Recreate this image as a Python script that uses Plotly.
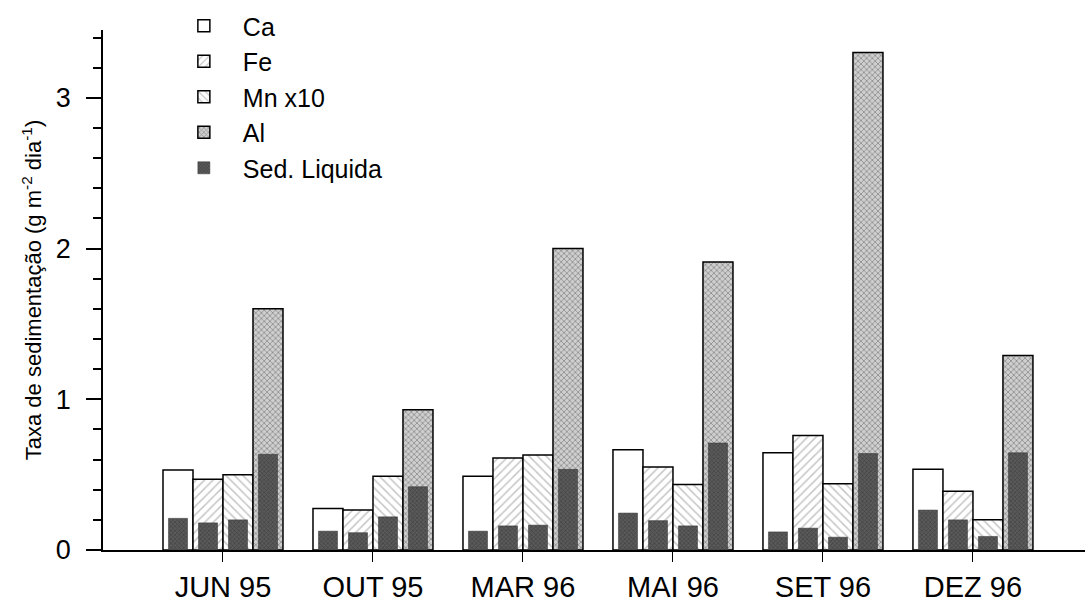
import plotly.graph_objects as go

categories = ["JUN 95", "OUT 95", "MAR 96", "MAI 96", "SET 96", "DEZ 96"]
series_names = ["Ca", "Fe", "Mn x10", "Al"]
ca = [0.53, 0.275, 0.49, 0.665, 0.645, 0.535]
fe = [0.47, 0.265, 0.61, 0.55, 0.76, 0.39]
mn10 = [0.50, 0.49, 0.63, 0.435, 0.44, 0.20]
al = [1.60, 0.93, 2.00, 1.91, 3.30, 1.29]
sed_ca = [0.21, 0.125, 0.125, 0.245, 0.12, 0.265]
sed_fe = [0.18, 0.115, 0.16, 0.195, 0.145, 0.20]
sed_mn = [0.20, 0.22, 0.165, 0.16, 0.085, 0.09]
sed_al = [0.635, 0.42, 0.535, 0.71, 0.64, 0.645]

totals = [ca, fe, mn10, al]
seds = [sed_ca, sed_fe, sed_mn, sed_al]

FONT = "Liberation Sans, Arial, sans-serif"
xpos = list(range(len(categories)))
bar_w = 0.2
sed_w = 0.127

styles = [
    dict(color="white", pattern=dict(shape="")),
    dict(color="white", pattern=dict(shape="/", fgcolor="#8a8a8a", size=6, solidity=0.25)),
    dict(color="white", pattern=dict(shape="\\", fgcolor="#8a8a8a", size=6, solidity=0.25)),
    dict(color="#cfcfcf", pattern=dict(shape="x", fgcolor="#555555", size=4, solidity=0.4)),
]
sed_style = dict(color="#5a5a5a", pattern=dict(shape="x", fgcolor="#2a2a2a", size=3, solidity=0.4))

fig = go.Figure()
for i, (name, vals) in enumerate(zip(series_names, totals)):
    fig.add_trace(go.Bar(
        x=xpos, y=vals, name=name, width=bar_w, offset=-0.4 + i * bar_w,
        marker=dict(color=styles[i]["color"], pattern=styles[i]["pattern"],
                    line=dict(color="black", width=1.5)),
        legendgroup=name, legendrank=i + 1,
    ))
for i, vals in enumerate(seds):
    fig.add_trace(go.Bar(
        x=xpos, y=vals, name="Sed. Liquida", width=sed_w,
        offset=-0.4 + i * bar_w + (bar_w - sed_w) / 2,
        marker=dict(color=sed_style["color"], pattern=sed_style["pattern"],
                    line=dict(color="#333333", width=0.5)),
        legendgroup="sed", showlegend=(i == 0), legendrank=10,
    ))

fig.update_layout(
    width=1091, height=610,
    margin=dict(l=103, r=6, t=30, b=60, autoexpand=False),
    paper_bgcolor="white", plot_bgcolor="white",
    barmode="overlay",
    font=dict(family=FONT, color="black"),
    showlegend=True,
    legend=dict(x=0.063, y=0.995, xanchor="left", yanchor="top", yref="container",
                font=dict(size=25, family=FONT), bgcolor="rgba(0,0,0,0)",
                tracegroupgap=0, itemwidth=68),
    xaxis=dict(range=[-0.8, 5.747], tickvals=xpos, ticktext=categories,
               showline=True, linecolor="black", linewidth=1.5,
               ticks="outside", ticklen=10, tickcolor="black",
               tickfont=dict(size=29, family=FONT), showgrid=False, zeroline=False),
    yaxis=dict(range=[0, 3.45], tickvals=[0, 1, 2, 3], ticktext=["0", "1", "2", "3"],
               showline=True, linecolor="black", linewidth=1.5,
               ticks="outside", ticklen=15, tickwidth=1.5, tickcolor="black",
               minor=dict(dtick=0.2, ticklen=8, ticks="outside", tickcolor="black", showgrid=False),
               tickfont=dict(size=27, family=FONT), ticklabelstandoff=10,
               showgrid=False, zeroline=False,
               title=dict(text="Taxa de sedimentação (g m<sup>-2</sup> dia<sup>-1</sup>)",
                          font=dict(size=22, family=FONT), standoff=8)),
)

fig.write_html("out.html")
